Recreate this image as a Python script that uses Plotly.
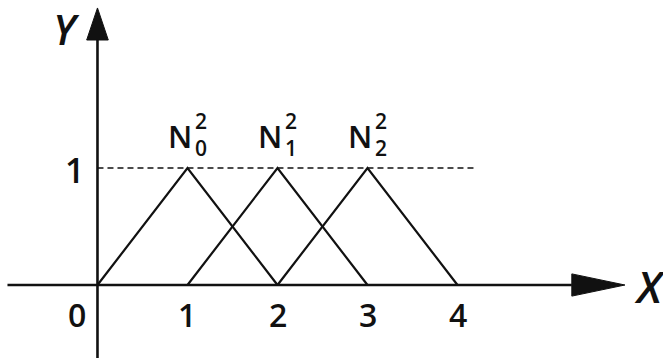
import plotly.graph_objects as go

# Triangular membership functions N_i^2 with peaks at 1, 2, 3
centers = [1, 2, 3]
names = ["0", "1", "2"]
order = "2"
half_width = 1.0
x_ticks = [0, 1, 2, 3, 4]
x_tick_labels = ["0", "1", "2", "3", "4"]
y_level = 1.0
dash_end = 4.22

# axis extents (data units)
x_min, x_max = -1.083, 6.283
y_min, y_max = -0.624, 2.436
x_axis_start, x_arrow_tip, x_arrow_base = -1.0, 5.86, 5.27
y_arrow_tip, y_arrow_base = 2.368, 2.094
x_head_half = 0.095   # y-units
y_head_half = 0.12    # x-units

FONT = "Open Sans"
INK = "#111"
fig = go.Figure()

for c in centers:
    fig.add_trace(go.Scatter(
        x=[c - half_width, c, c + half_width], y=[0, y_level, 0],
        mode="lines", line=dict(color=INK, width=2.2), hoverinfo="skip",
        showlegend=False))

# dashed level line at y = 1
fig.add_trace(go.Scatter(
    x=[0, dash_end], y=[y_level, y_level], mode="lines",
    line=dict(color=INK, width=1.6, dash="6px,4px"),
    hoverinfo="skip", showlegend=False))

shapes = [
    dict(type="line", x0=x_axis_start, x1=x_arrow_base, y0=0, y1=0,
         line=dict(color=INK, width=2.6)),
    dict(type="line", x0=0, x1=0, y0=y_min, y1=y_arrow_base,
         line=dict(color=INK, width=2.6)),
    dict(type="path",
         path=f"M {x_arrow_base} {-x_head_half} L {x_arrow_tip} 0 L {x_arrow_base} {x_head_half} Z",
         fillcolor=INK, line=dict(color=INK, width=1)),
    dict(type="path",
         path=f"M {-y_head_half} {y_arrow_base} L 0 {y_arrow_tip} L {y_head_half} {y_arrow_base} Z",
         fillcolor=INK, line=dict(color=INK, width=1)),
]


def label(x, y, text, size, weight=600, style="normal"):
    return dict(x=x, y=y, text=text, showarrow=False,
                font=dict(family=FONT, size=size, color=INK, weight=weight, style=style),
                xanchor="center", yanchor="middle")


annotations = []
for xv, lab in zip(x_ticks, x_tick_labels):
    xpos = -0.23 if xv == 0 else xv
    annotations.append(label(xpos, -0.25, lab, 32))

annotations.append(label(-0.26, 0.98, "1", 34))

for c, n in zip(centers, names):
    annotations.append(label(c - 0.08, 1.27, "N", 31))
    # stacked superscript (order) over subscript (index)
    annotations.append(label(c + 0.145, 1.29, f"{order}<br>{n}", 21))

annotations.append(label(-0.34, 2.19, "Y", 42, style="italic"))
annotations.append(label(6.14, -0.01, "X", 44, style="italic"))

fig.update_layout(
    width=663, height=358,
    margin=dict(l=0, r=0, t=0, b=0),
    paper_bgcolor="white", plot_bgcolor="white",
    xaxis=dict(range=[x_min, x_max], visible=False, fixedrange=True),
    yaxis=dict(range=[y_min, y_max], visible=False, fixedrange=True),
    shapes=shapes, annotations=annotations,
)

fig.write_html("out.html")
